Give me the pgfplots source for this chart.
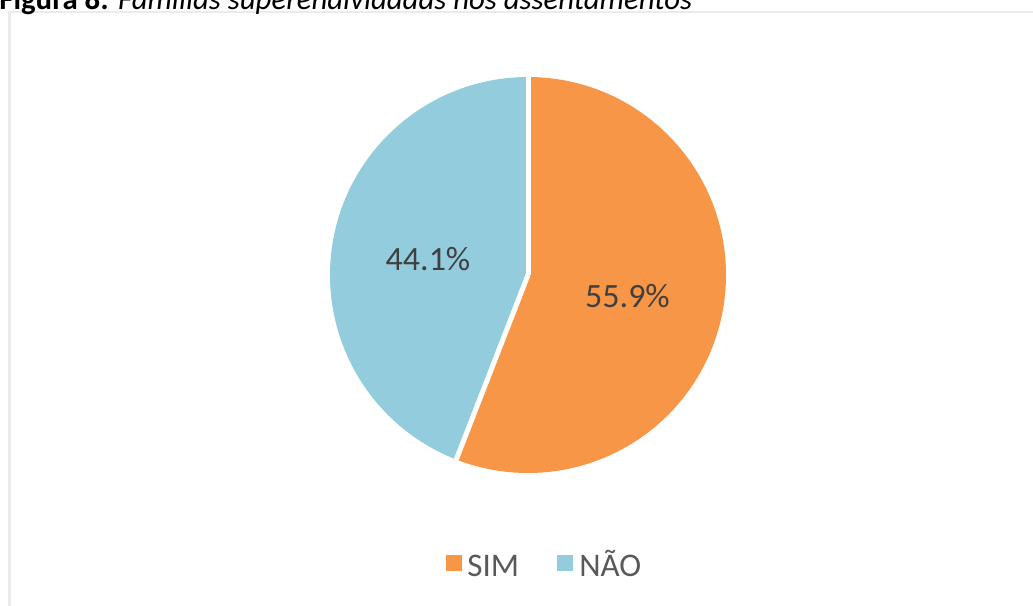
\documentclass[border=0pt]{standalone}
\usepackage{pgfplots}
\usepackage{pgfplotstable}
\pgfplotsset{compat=1.18}
\usepackage{fontspec}
\setmainfont{Carlito}

\definecolor{sim}{HTML}{F79646}
\definecolor{nao}{HTML}{93CDDD}
\definecolor{lbl}{HTML}{404040}
\definecolor{leg}{HTML}{595959}

\pgfplotstableread{
resposta valor
SIM 55.9
NAO 44.1
}\piedata

\begin{document}
\begin{tikzpicture}
\pgfplotstablegetelem{0}{valor}\of\piedata \let\vsim\pgfplotsretval
\pgfplotstablegetelem{1}{valor}\of\piedata \let\vnao\pgfplotsretval
\pgfmathsetmacro\asim{3.6*\vsim}
\pgfmathsetmacro\anao{3.6*\vnao}
\pgfmathsetmacro\aend{90-\asim}
\begin{axis}[
    name=ax,
    width=516.5pt, height=302.5pt,
    scale only axis,
    xmin=0, xmax=1033,
    ymin=0, ymax=605,
    y dir=reverse,
    hide axis,
    clip=false,
]
% frame
\draw[color=black!8, line width=1.25pt] (axis cs:9.5,700) |- (axis cs:1200,12);
% title (partly cut off above the page)
\node[anchor=base west, inner sep=0pt, font=\fontsize{15.4}{17}\selectfont]
    at (axis cs:-1,9) {\textbf{Figura 8:} \textit{Famílias superendividadas nos assentamentos}};
% slices
\fill[sim] (axis cs:528,275) -- ++(90:99pt) arc[start angle=90, delta angle=-\asim, radius=99pt] -- cycle;
\fill[nao] (axis cs:528,275) -- ++(90:99pt) arc[start angle=90, delta angle=\anao, radius=99pt] -- cycle;
\draw[white, line width=2.5pt] (axis cs:528,275) -- ++(90:101pt);
\draw[white, line width=2.5pt] (axis cs:528,275) -- ++(\aend:101pt);
% labels
\node[lbl, font=\fontsize{17}{19}\selectfont] at (axis cs:428,259) {\vnao\%};
\node[lbl, font=\fontsize{17}{19}\selectfont] at (axis cs:627.5,296.5) {\vsim\%};
% legend
\fill[sim] (axis cs:446,555) rectangle (axis cs:462,571);
\node[leg, anchor=base west, inner sep=0pt, font=\fontsize{16.5}{18}\selectfont] at (axis cs:467,576) {SIM};
\fill[nao] (axis cs:557,555) rectangle (axis cs:573,571);
\node[leg, anchor=base west, inner sep=0pt, font=\fontsize{16.5}{18}\selectfont] at (axis cs:579,576) {NÃO};
\end{axis}
\pgfresetboundingbox
\useasboundingbox (ax.south west) rectangle (ax.north east);
\end{tikzpicture}
\end{document}
